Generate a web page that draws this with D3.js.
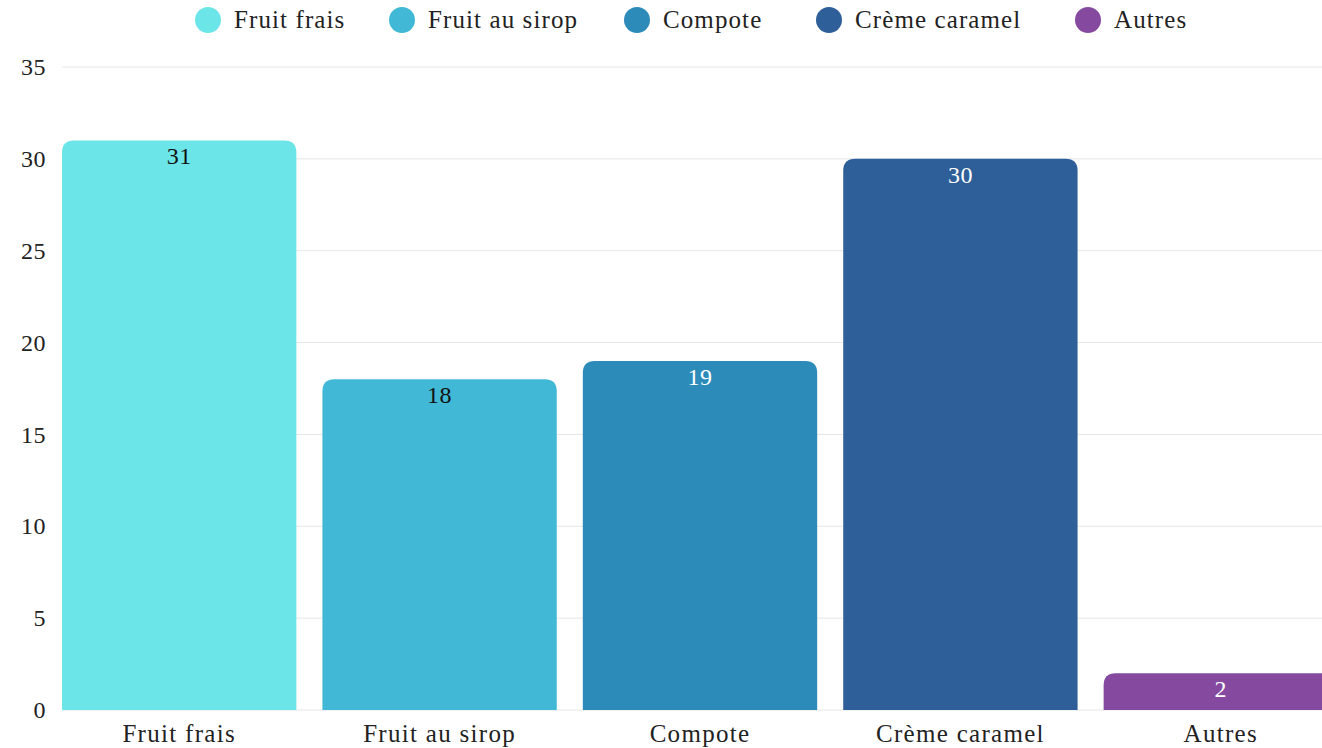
<!DOCTYPE html>
<html>
<head>
<meta charset="utf-8">
<script src="https://cdn.jsdelivr.net/npm/d3@7"></script>
<style>
  html, body { margin: 0; padding: 0; background: #fff; overflow: hidden; }
  svg { display: block; font-family: "Liberation Serif", "DejaVu Serif", serif; }
</style>
</head>
<body>
<svg id="chart" width="1322" height="748"></svg>
<script>
// Dessert preferences
const categories = ["Fruit frais", "Fruit au sirop", "Compote", "Crème caramel", "Autres"];
const values = [31, 18, 19, 30, 2];
const colors = ["#6ce5e8", "#41b8d5", "#2d8bba", "#2f5f98", "#8549a0"];
const labelColors = ["#111", "#111", "#fff", "#fff", "#fff"];
const yTicks = [0, 5, 10, 15, 20, 25, 30, 35];

const svg = d3.select("#chart");
const W = 1322;

const x = d3.scaleBand().domain(categories).range([62, 1338]).paddingInner(0.1).paddingOuter(0);
const y = d3.scaleLinear().domain([0, 35]).range([710, 67]);

// Grid lines
svg.append("g").selectAll("line").data(yTicks).join("line")
  .attr("x1", 62).attr("x2", W)
  .attr("y1", d => y(d)).attr("y2", d => y(d))
  .attr("stroke", "#e6e6e6").attr("stroke-width", 1);

// Y axis labels
const yAxis = d3.axisLeft(y).tickValues(yTicks).tickSize(0).tickPadding(0);
const gy = svg.append("g").attr("transform", "translate(46,0)").call(yAxis);
gy.select(".domain").remove();
gy.selectAll("text").attr("font-size", 24).attr("fill", "#222")
  .attr("letter-spacing", 0.5)
  .style("font-family", "'Liberation Serif', serif");

// Bars with rounded top corners
const r = 12;
function barPath(d, i) {
  const x0 = x(categories[i]), w = x.bandwidth();
  const y0 = y(d), y1 = y(0);
  const rr = Math.min(r, (y1 - y0));
  return `M${x0},${y1} L${x0},${y0 + rr} Q${x0},${y0} ${x0 + rr},${y0} ` +
         `L${x0 + w - rr},${y0} Q${x0 + w},${y0} ${x0 + w},${y0 + rr} L${x0 + w},${y1} Z`;
}
svg.append("g").selectAll("path").data(values).join("path")
  .attr("d", barPath)
  .attr("fill", (d, i) => colors[i]);

// Value labels
svg.append("g").selectAll("text").data(values).join("text")
  .attr("x", (d, i) => x(categories[i]) + x.bandwidth() / 2)
  .attr("y", d => y(d) + 24)
  .attr("text-anchor", "middle")
  .attr("font-size", 24)
  .attr("letter-spacing", 0.5)
  .attr("fill", (d, i) => labelColors[i])
  .text(d => d);

// X axis labels
const xAxis = d3.axisBottom(x).tickSize(0).tickPadding(0);
const gx = svg.append("g").attr("transform", "translate(0,724)").call(xAxis);
gx.select(".domain").remove();
gx.selectAll("text").attr("font-size", 25).attr("fill", "#222")
  .attr("letter-spacing", 1.3)
  .style("font-family", "'Liberation Serif', serif");

// Legend
const legendX = [208, 402, 637, 829, 1088];
const lg = svg.append("g").selectAll("g").data(categories).join("g")
  .attr("transform", (d, i) => `translate(${legendX[i]},20)`);
lg.append("circle").attr("r", 13).attr("fill", (d, i) => colors[i]);
lg.append("text").attr("x", 26).attr("y", 8).attr("font-size", 25)
  .attr("letter-spacing", 1.1).attr("fill", "#222").text(d => d);
</script>
</body>
</html>
